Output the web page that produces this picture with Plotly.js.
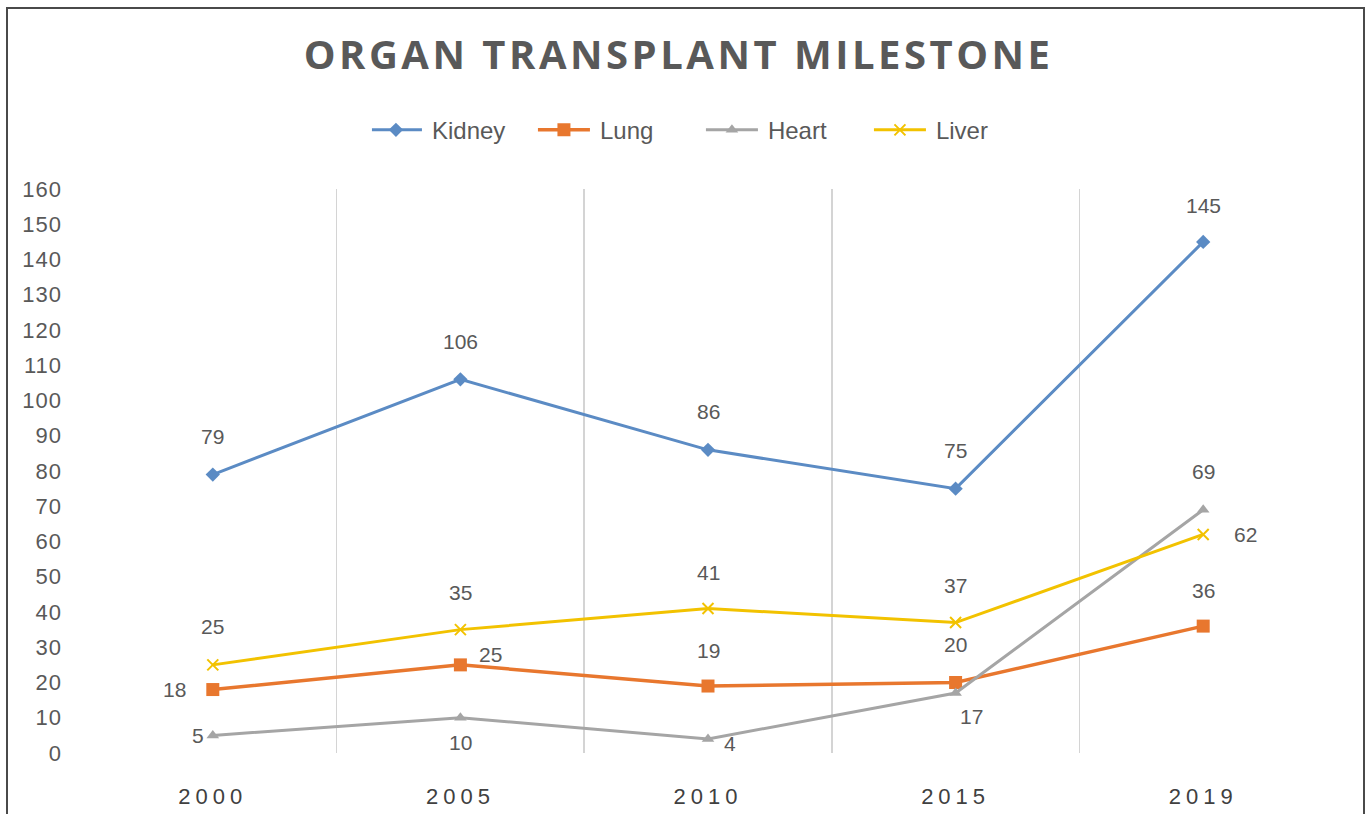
<!DOCTYPE html>
<html>
<head>
<meta charset="utf-8">
<script src="https://cdn.plot.ly/plotly-3.0.1.min.js"></script>
<style>
  html, body { margin: 0; padding: 0; background: #fff; overflow: hidden; }
  #chart { width: 1368px; height: 814px; position: absolute; left: 0; top: 0; }
  #frame { position: absolute; left: 6px; top: 7px; width: 1355px; height: 820px;
           border: 2px solid #4a4a4a; border-bottom: none; pointer-events: none; }
  .gtitle { letter-spacing: 3.5px; }
  .xtick text { letter-spacing: 5px; }
  .ytick text { letter-spacing: 1px; }
</style>
</head>
<body>
<div id="chart"></div>
<div id="frame"></div>
<script>
const years = ['2000', '2005', '2010', '2015', '2019'];
const kidney = [79, 106, 86, 75, 145];
const lung = [18, 25, 19, 20, 36];
const heart = [5, 10, 4, 17, 69];
const liver = [25, 35, 41, 37, 62];
const yTicks = [0, 10, 20, 30, 40, 50, 60, 70, 80, 90, 100, 110, 120, 130, 140, 150, 160];

const xIdx = years.map((_, i) => i);
const textColor = '#595959';
const bodyFont = 'Liberation Sans, Arial, sans-serif';

const series = [
  { name: 'Kidney', y: kidney, color: '#5b8bc4', symbol: 'diamond', size: 11, width: 3,
    offsets: [[0,-38],[0,-38],[0,-38],[0,-38],[0,-36]] },
  { name: 'Lung', y: lung, color: '#e8772e', symbol: 'square', size: 13, width: 3.5,
    offsets: [[-38,0],[30,-10],[0,-36],[0,-38],[0,-36]] },
  { name: 'Heart', y: heart, color: '#a5a5a5', symbol: 'triangle-up', size: 11, width: 3,
    offsets: [[-15,0],[0,25],[22,5],[16,23],[0,-38]] },
  { name: 'Liver', y: liver, color: '#f2c200', symbol: 'x-thin-open', size: 11, width: 3,
    offsets: [[0,-38],[0,-37],[0,-36],[0,-37],[42,0]] }
];

const traces = series.map(s => ({
  type: 'scatter', mode: 'lines+markers', name: s.name,
  x: xIdx, y: s.y,
  line: { color: s.color, width: s.width },
  marker: { color: s.color, symbol: s.symbol, size: s.size, line: { color: s.color, width: s.symbol === 'x-thin-open' ? 2 : 0 } },
  hoverinfo: 'x+y'
}));

const annotations = [];
series.forEach(s => {
  s.y.forEach((v, i) => {
    annotations.push({
      x: xIdx[i], y: v, xref: 'x', yref: 'y', text: String(v), showarrow: false,
      xshift: s.offsets[i][0], yshift: -s.offsets[i][1],
      font: { family: bodyFont, size: 21, color: textColor }
    });
  });
});

const layout = {
  width: 1368, height: 814,
  paper_bgcolor: '#ffffff', plot_bgcolor: '#ffffff',
  margin: { l: 89, r: 41, t: 189, b: 61 },
  title: {
    text: '<b>ORGAN TRANSPLANT MILESTONE</b>',
    x: 0.496, xref: 'container', xanchor: 'center',
    y: 0.932, yref: 'container', yanchor: 'middle',
    font: { family: 'Open Sans, sans-serif', size: 40, color: '#595959' }
  },
  showlegend: true,
  legend: {
    orientation: 'h', xref: 'container', yref: 'container',
    x: 0.5175, xanchor: 'center', y: 0.84, yanchor: 'middle',
    font: { family: bodyFont, size: 24, color: textColor },
    itemwidth: 50, entrywidth: 103, entrywidthmode: 'pixels',
    bgcolor: 'rgba(0,0,0,0)'
  },
  xaxis: {
    type: 'linear', range: [-0.5, 4.5],
    tickmode: 'array', tickvals: xIdx, ticktext: years,
    showgrid: false, zeroline: false, showline: false, ticks: '',
    ticklabelstandoff: 28,
    tickfont: { family: bodyFont, size: 22, color: '#404040' },
    minor: { tickmode: 'array', tickvals: xIdx.slice(1).map(v => v - 0.5), showgrid: true, gridcolor: '#d4d4d4', gridwidth: 1.5, ticks: '' },
    fixedrange: true
  },
  yaxis: {
    range: [0, 160], tickmode: 'array', tickvals: yTicks,
    showgrid: false, zeroline: false, showline: false, ticks: '',
    ticklabelstandoff: 26,
    tickfont: { family: bodyFont, size: 22, color: textColor },
    fixedrange: true
  },
  annotations: annotations
};

Plotly.newPlot('chart', traces, layout, { displayModeBar: false, staticPlot: true }).then(gd => {
  // lengthen legend sample lines to match the reference
  gd.querySelectorAll('.legendlines path').forEach(p => p.setAttribute('d', 'M-2,0h52'));
  gd.querySelectorAll('.legendpoints path').forEach(p => p.setAttribute('transform', 'translate(24,0)'));
});
</script>
</body>
</html>
